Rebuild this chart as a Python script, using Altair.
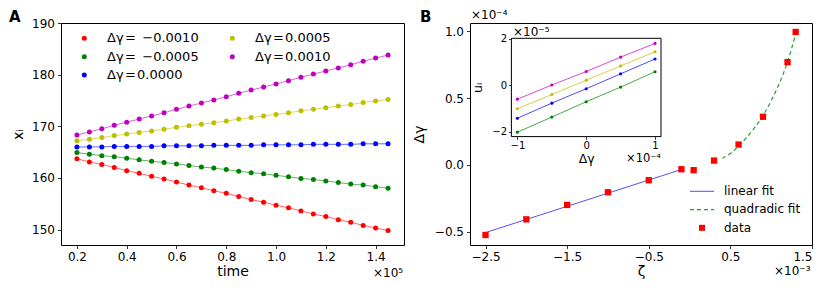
import altair as alt
import pandas as pd

FONT = "DejaVu Sans"

# ---------------- Panel A data ----------------
time_e5 = [0.20, 0.25, 0.30, 0.35, 0.40, 0.45, 0.50, 0.55, 0.60, 0.65, 0.70, 0.75, 0.80,
           0.85, 0.90, 0.95, 1.00, 1.05, 1.10, 1.15, 1.20, 1.25, 1.30, 1.35, 1.40, 1.45]
dg_labels = ["Δγ\u200a=\u2002−0.0010", "Δγ\u200a=\u2002−0.0005", "Δγ\u200a=\u200a0.0000",
             "Δγ\u200a=\u200a0.0005", "Δγ\u200a=\u200a0.0010"]
series_colors = ["#ff0000", "#008000", "#0000ff", "#bfbf00", "#bf00bf"]
x_m0010 = [163.7, 163.1, 162.6, 162.0, 161.4, 160.9, 160.3, 159.8, 159.2, 158.6, 158.1, 157.5, 157.0,
           156.4, 155.8, 155.3, 154.7, 154.2, 153.6, 153.0, 152.5, 151.9, 151.4, 150.8, 150.3, 149.8]
x_m0005 = [164.9, 164.6, 164.3, 164.1, 163.8, 163.5, 163.2, 163.0, 162.7, 162.4, 162.1, 161.9, 161.6,
           161.3, 161.0, 160.8, 160.5, 160.2, 159.9, 159.7, 159.4, 159.1, 158.8, 158.6, 158.3, 158.0]
x_p0000 = [166.0, 166.0, 166.0, 166.1, 166.1, 166.1, 166.1, 166.2, 166.2, 166.2, 166.2, 166.3, 166.3,
           166.3, 166.3, 166.4, 166.4, 166.4, 166.4, 166.5, 166.5, 166.5, 166.5, 166.6, 166.6, 166.6]
x_p0005 = [167.2, 167.5, 167.8, 168.2, 168.5, 168.8, 169.1, 169.4, 169.8, 170.1, 170.4, 170.7, 171.0,
           171.4, 171.7, 172.0, 172.3, 172.6, 173.0, 173.3, 173.6, 173.9, 174.2, 174.6, 174.9, 175.2]
x_p0010 = [168.3, 168.9, 169.5, 170.2, 170.8, 171.4, 172.0, 172.6, 173.3, 173.9, 174.5, 175.1, 175.7,
           176.4, 177.0, 177.6, 178.2, 178.8, 179.5, 180.1, 180.7, 181.3, 181.9, 182.6, 183.2, 183.8]
a_x_ticks = [0.2, 0.4, 0.6, 0.8, 1.0, 1.2, 1.4]
a_y_ticks = [150, 160, 170, 180, 190]

# ---------------- Panel B data ----------------
zeta_e3 = [-2.5, -2.0, -1.5, -1.0, -0.5, -0.1, 0.05, 0.3, 0.6, 0.9, 1.2, 1.3]
dgamma_e4 = [-0.525, -0.408, -0.30, -0.205, -0.115, -0.033, -0.04, 0.032, 0.152, 0.36, 0.769, 0.995]
lin_fit_zeta = [-2.5, -0.1]
lin_fit_dg = [-0.507, -0.035]
quad_fit_zeta = [0.4, 0.5, 0.6, 0.7, 0.8, 0.9, 1.0, 1.1, 1.2, 1.3]
quad_fit_dg = [0.05, 0.085, 0.14, 0.205, 0.28, 0.37, 0.48, 0.61, 0.77, 0.98]
b_x_ticks = [-2.5, -1.5, -0.5, 0.5, 1.5]
b_y_ticks = [-0.5, 0.0, 0.5, 1.0]
legend_b_labels = ["linear fit", "quadradic fit", "data"]

# ---------------- Inset data ----------------
inset_dg_e4 = [-1.0, -0.5, 0.0, 0.5, 1.0]
u_green = [-2.01, -1.36, -0.70, -0.07, 0.59]
u_blue = [-1.41, -0.76, -0.14, 0.50, 1.14]
u_yellow = [-1.00, -0.39, 0.23, 0.84, 1.45]
u_magenta = [-0.59, 0.02, 0.60, 1.22, 1.81]
inset_colors = ["#008000", "#0000ff", "#bfbf00", "#bf00bf"]
inset_x_domain = [-1.087, 1.087]
inset_y_domain = [-2.2, 2.03]

one = pd.DataFrame({"k": [0]})

# ================= Panel A =================
W, H = 343, 222
rows = []
for lab, col, ys in zip(dg_labels, series_colors, [x_m0010, x_m0005, x_p0000, x_p0005, x_p0010]):
    for t, v in zip(time_e5, ys):
        rows.append({"time": t, "x": v, "dg": lab, "col": col})
dfa = pd.DataFrame(rows)
xa = alt.X("time:Q", scale=alt.Scale(domain=[0.136, 1.514], nice=False, zero=False),
           axis=alt.Axis(values=a_x_ticks, format=".1f", title="time", titlePadding=2))
ya = alt.Y("x:Q", scale=alt.Scale(domain=[147, 190], nice=False, zero=False),
           axis=alt.Axis(values=a_y_ticks, format="d", title="xᵢ", titlePadding=6))
lines_a = alt.Chart(dfa).mark_line(strokeWidth=1, opacity=0.6).encode(
    xa, ya, color=alt.Color("col:N", scale=None), detail="dg:N")
pts_a = alt.Chart(dfa).mark_circle(size=25, opacity=1).encode(
    xa, ya, color=alt.Color("col:N", scale=None))

# legend box of panel A (two columns, matplotlib column-major order)
leg_rows = []
for i, (lab, col) in enumerate(zip(dg_labels, series_colors)):
    c, r = divmod(i, 3)
    leg_rows.append({"lab": lab, "col": col, "mx": 23.3 + 148 * c, "tx": 46 + 148 * c,
                     "my": 15.3 + 18.4 * r})
dfl_a = pd.DataFrame(leg_rows)
leg_a_sym = alt.Chart(dfl_a).mark_circle(size=25, opacity=1).encode(
    x=alt.X("mx:Q", scale=None), y=alt.Y("my:Q", scale=None), color=alt.Color("col:N", scale=None))
leg_a_txt = alt.Chart(dfl_a).mark_text(fontSize=13, align="left", baseline="middle", font=FONT).encode(
    x=alt.X("tx:Q", scale=None), y=alt.Y("my:Q", scale=None), text="lab:N")

lab_A = alt.Chart(one).mark_text(text="A", fontWeight="bold", fontSize=15, align="left",
                                 baseline="alphabetic", font=FONT).encode(
    x=alt.value(-52), y=alt.value(-1))
exp_A = alt.Chart(one).mark_text(text="×10⁵", fontSize=12, align="left", baseline="middle",
                                 font=FONT).encode(x=alt.value(312), y=alt.value(250))
panel_a = alt.layer(lines_a, pts_a, leg_a_sym, leg_a_txt, lab_A, exp_A).properties(width=W, height=H)

# ================= Panel B =================
WB = 342
bxs = alt.Scale(domain=[-2.69, 1.5], nice=False, zero=False)
bys = alt.Scale(domain=[-0.6, 1.062], nice=False, zero=False)
bxa = alt.Axis(values=b_x_ticks, format=".1f", title="ζ", titlePadding=2)
bya = alt.Axis(values=b_y_ticks, format=".1f", title="Δγ", titlePadding=8)
xb = alt.X("zeta:Q", scale=bxs, axis=bxa)
yb = alt.Y("dg:Q", scale=bys, axis=bya)

dfb = pd.DataFrame({"zeta": zeta_e3, "dg": dgamma_e4})
dfl = pd.DataFrame({"zeta": lin_fit_zeta, "dg": lin_fit_dg})
dfq = pd.DataFrame({"zeta": quad_fit_zeta, "dg": quad_fit_dg})
lin_b = alt.Chart(dfl).mark_line(color="#5050ff", strokeWidth=1).encode(xb, yb)
quad_b = alt.Chart(dfq).mark_line(color="#2e9a2e", strokeWidth=1.2, strokeDash=[4, 3],
                                  interpolate="monotone").encode(xb, yb)
pts_b = alt.Chart(dfb).mark_square(size=40, color="#ff0000", opacity=1).encode(xb, yb)

# legend box of panel B
leg_l = alt.Chart(one).mark_rule(color="#5050ff", strokeWidth=1).encode(
    x=alt.value(220), x2=alt.value(244), y=alt.value(168.3))
leg_q = alt.Chart(one).mark_rule(color="#2e9a2e", strokeWidth=1.2, strokeDash=[4, 3]).encode(
    x=alt.value(220), x2=alt.value(244), y=alt.value(186.6))
leg_d = alt.Chart(one).mark_square(size=36, color="#ff0000", opacity=1).encode(
    x=alt.value(232), y=alt.value(204.8))
leg_texts = pd.DataFrame({"t": legend_b_labels, "yy": [167.8, 186.1, 204.6]})
leg_t = alt.Chart(leg_texts).mark_text(fontSize=12, align="left", baseline="middle", font=FONT).encode(
    x=alt.value(254), y=alt.Y("yy:Q", scale=None), text="t:N")

lab_B = alt.Chart(one).mark_text(text="B", fontWeight="bold", fontSize=15, align="left",
                                 baseline="alphabetic", font=FONT).encode(
    x=alt.value(-50), y=alt.value(-1))
exp_b_y = alt.Chart(one).mark_text(text="×10⁻⁴", fontSize=12, align="left", baseline="middle",
                                   font=FONT).encode(x=alt.value(1), y=alt.value(-8))
exp_b_x = alt.Chart(one).mark_text(text="×10⁻³", fontSize=12, align="left", baseline="middle",
                                   font=FONT).encode(x=alt.value(304), y=alt.value(248))

main_b = alt.layer(lin_b, quad_b, pts_b, leg_l, leg_q, leg_d, leg_t, lab_B, exp_b_y, exp_b_x)

# ---- inset ----
ix_range = [41.4, 191.0]
iy_range = [113.6, 15.3]
ixs = alt.Scale(domain=inset_x_domain, range=ix_range, nice=False, zero=False)
iys = alt.Scale(domain=inset_y_domain, range=iy_range, nice=False, zero=False)
ixa = alt.Axis(values=[-1, 0, 1], format="d", title="Δγ", orient="bottom", offset=113.6 - H,
               titlePadding=2, labelFontSize=10, titleFontSize=12.5, tickSize=2.8, labelPadding=1.5)
iya = alt.Axis(values=[-2, 0, 2], format="d", title="uᵢ", orient="left", offset=-41.4,
               titlePadding=7, labelFontSize=10, titleFontSize=12.5, tickSize=2.8, labelPadding=2)
rows = []
for col, us in zip(inset_colors, [u_green, u_blue, u_yellow, u_magenta]):
    for d, u in zip(inset_dg_e4, us):
        rows.append({"dgi": d, "u": u, "col": col})
dfi = pd.DataFrame(rows)
frame_df = pd.DataFrame({"x0": [inset_x_domain[0]], "x1": [inset_x_domain[1]],
                         "y0": [inset_y_domain[0]], "y1": [inset_y_domain[1]]})
frame = alt.Chart(frame_df).mark_rect(fill="white", stroke="black", strokeWidth=1).encode(
    x=alt.X("x0:Q", scale=ixs, axis=ixa), x2="x1:Q",
    y=alt.Y("y0:Q", scale=iys, axis=iya), y2="y1:Q")
xi = alt.X("dgi:Q", scale=ixs, axis=ixa)
yi = alt.Y("u:Q", scale=iys, axis=iya)
lines_i = alt.Chart(dfi).mark_line(strokeWidth=1, opacity=0.7).encode(
    xi, yi, color=alt.Color("col:N", scale=None), detail="col:N")
pts_i = alt.Chart(dfi).mark_circle(size=10, opacity=1).encode(
    xi, yi, color=alt.Color("col:N", scale=None))
exp_i_y = alt.Chart(one).mark_text(text="×10⁻⁵", fontSize=12, align="left", baseline="middle",
                                   font=FONT).encode(x=alt.value(43), y=alt.value(9))
exp_i_x = alt.Chart(one).mark_text(text="×10⁻⁴", fontSize=11.5, align="left", baseline="middle",
                                   font=FONT).encode(x=alt.value(156), y=alt.value(135.5))
inset = alt.layer(frame, lines_i, pts_i, exp_i_y, exp_i_x)

panel_b = alt.layer(main_b, inset).resolve_scale(x="independent", y="independent").properties(
    width=WB, height=H)

chart = alt.hconcat(panel_a, panel_b, spacing=66, bounds="flush").properties(
    padding={"left": 0, "top": 0, "right": 5, "bottom": 5}
).configure_axis(
    grid=False, domain=False, tickColor="black", tickSize=3.5, tickWidth=0.8,
    labelColor="black", titleColor="black", labelFont=FONT, titleFont=FONT,
    labelFontSize=12, titleFontSize=14, titleFontWeight="normal", labelPadding=3
).configure_view(stroke="black", strokeWidth=1).configure_text(font=FONT)

chart.save("out.html", embed_options={"renderer": "svg", "actions": False})
